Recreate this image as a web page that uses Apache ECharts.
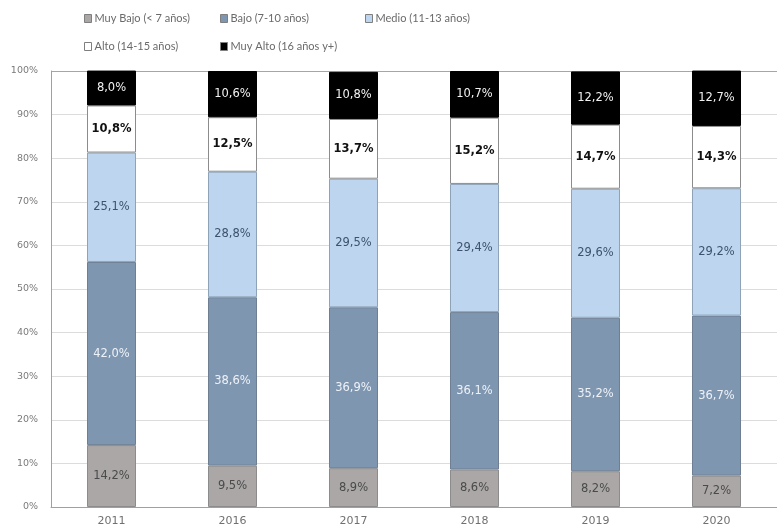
<!DOCTYPE html>
<html>
<head>
<meta charset="utf-8">
<script src="https://cdn.jsdelivr.net/npm/echarts@6/dist/echarts.min.js"></script>
<style>html,body{margin:0;padding:0;background:#fff}#c{width:777px;height:532px}</style>
</head>
<body>
<div id="c"></div>
<script>
var years = ['2011','2016','2017','2018','2019','2020'];
var muyBajo = [14.2, 9.5, 8.9, 8.6, 8.2, 7.2];
var bajo = [42.0, 38.6, 36.9, 36.1, 35.2, 36.7];
var medio = [25.1, 28.8, 29.5, 29.4, 29.6, 29.2];
var alto = [10.8, 12.5, 13.7, 15.2, 14.7, 14.3];
var muyAlto = [8.0, 10.6, 10.8, 10.7, 12.2, 12.7];
var seriesNames = ['Muy Bajo (< 7 años)', 'Bajo (7-10 años)', 'Medio (11-13 años)', 'Alto (14-15 años)', 'Muy Alto (16 años y+)'];

var LFONT = 'DejaVu Sans';
var FONT = '"Liberation Sans Narrow", "Lato", sans-serif';
function fmt(p){ return p.value.toFixed(1).replace('.', ',') + '%'; }

var defs = [
  {data: muyBajo, color: '#aba7a7', border: '#8c8c8c', label: '#4a4a4a', bold: false},
  {data: bajo, color: '#7f96b1', border: '#6f7f93', label: '#eef2f7', bold: false},
  {data: medio, color: '#bdd5ee', border: '#8ea3b8', label: '#3d526e', bold: false},
  {data: alto, color: '#ffffff', border: '#8c8c8c', label: '#111111', bold: true},
  {data: muyAlto, color: '#000000', border: '#000000', label: '#f2f2f2', bold: false}
];

var series = defs.map(function(d, i){
  return {
    name: seriesNames[i],
    type: 'bar',
    stack: 'total',
    barWidth: 49,
    data: d.data,
    itemStyle: {color: d.color, borderColor: d.border, borderWidth: 1},
    label: {show: true, position: 'inside', formatter: fmt, color: d.label,
            fontFamily: LFONT, fontSize: 11.5, fontWeight: d.bold ? 'bold' : 'normal'},
    emphasis: {disabled: true}
  };
});

var legendPos = [
  {left: 79, top: 8}, {left: 215, top: 8}, {left: 360, top: 8},
  {left: 79, top: 36}, {left: 215, top: 36}
];
var legends = seriesNames.map(function(n, i){
  return {
    data: [n], left: legendPos[i].left, top: legendPos[i].top,
    itemWidth: 7, itemHeight: 8, itemGap: 4,
    icon: 'rect',
    textStyle: {fontFamily: FONT, fontSize: 11, color: '#6a6a6a', padding: [0,0,0,-2]},
    itemStyle: {borderColor: '#7f7f7f', borderWidth: 1}
  };
});

var gridColors = [];
for (var k = 0; k < 10; k++) gridColors.push('#dcdcdc');
gridColors.push('#a6a6a6');

var chart = echarts.init(document.getElementById('c'), null, {renderer: 'canvas'});
chart.setOption({
  animation: false,
  backgroundColor: '#ffffff',
  legend: legends,
  grid: {left: 51, top: 71, width: 735, height: 436, containLabel: false},
  xAxis: {
    type: 'category', data: years,
    axisLine: {show: true, lineStyle: {color: '#a0a0a0', width: 1}},
    axisTick: {show: false},
    axisLabel: {color: '#707070', fontFamily: LFONT, fontSize: 11, margin: 9}
  },
  yAxis: {
    type: 'value', min: 0, max: 100, interval: 10,
    axisLine: {show: true, lineStyle: {color: '#a0a0a0', width: 1}},
    axisTick: {show: false},
    splitLine: {show: true, lineStyle: {color: gridColors, width: 1}},
    axisLabel: {color: '#7a7a7a', fontFamily: LFONT, fontSize: 9.5, formatter: '{value}%', margin: 13}
  },
  series: series
});
</script>
</body>
</html>
